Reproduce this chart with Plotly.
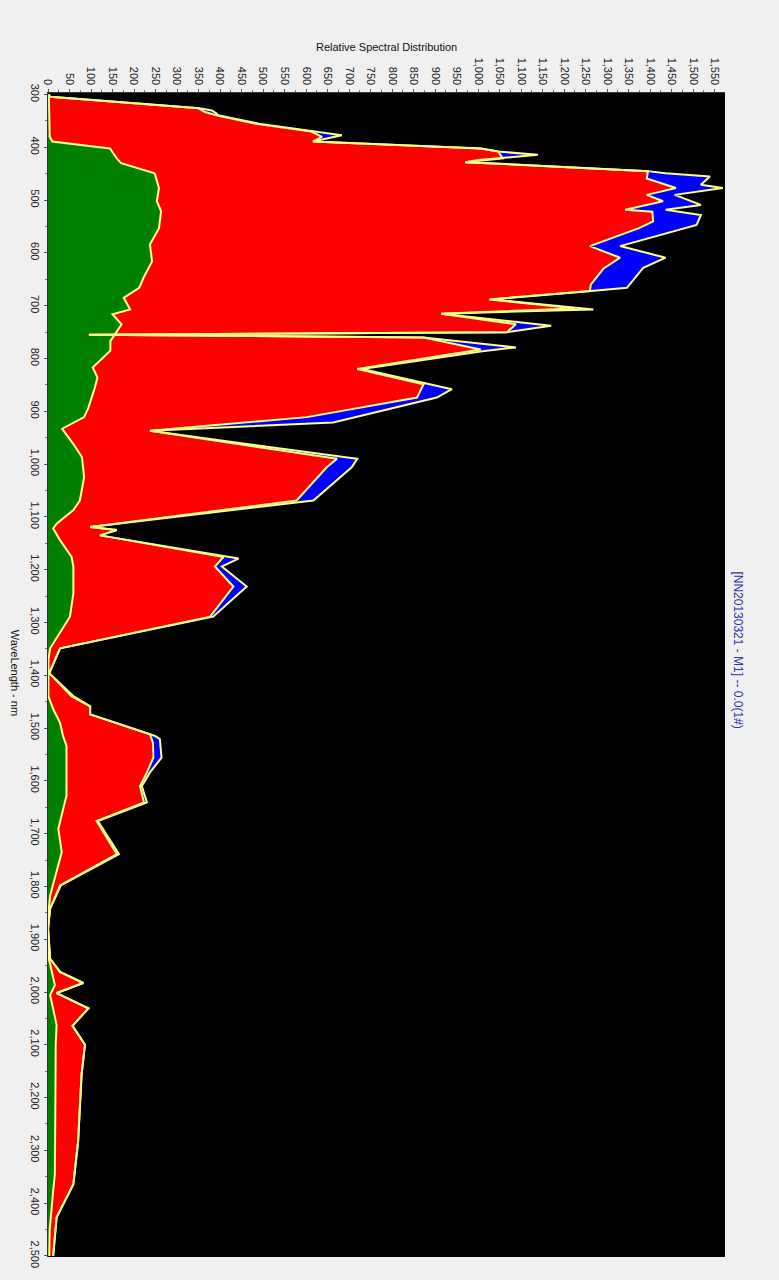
import plotly.graph_objects as go

# Outer envelope (blue band top)
wl_outer = [300, 304, 326, 330, 336, 339, 355, 370, 377, 389, 402, 408, 414, 424, 428,
            445, 449, 455, 471, 477, 490, 509, 518, 528, 547, 587, 609, 628, 666, 672,
            688, 707, 715, 738, 750, 755, 760, 779, 786, 820, 858, 874, 921, 937, 990,
            1006, 1069, 1119, 1125, 1135, 1179, 1194, 1232, 1289, 1349, 1396, 1440, 1459,
            1474, 1515, 1521, 1556, 1584, 1610, 1641, 1676, 1739, 1798, 1842, 1880, 1937,
            1962, 1983, 2002, 2031, 2064, 2100, 2157, 2283, 2364, 2427, 2500]
val_outer = [2, 5, 352, 381, 392, 395, 490, 620, 683, 616, 1006, 1047, 1139, 1000, 970,
             1395, 1436, 1539, 1518, 1569, 1457, 1518, 1436, 1518, 1508, 1330, 1436, 1384, 1346, 1262,
             1030, 1268, 914, 1170, 1067, 95, 873, 1088, 1010, 730, 939, 904, 663, 237, 719,
             706, 617, 98, 160, 121, 443, 404, 462, 384, 28, 3, 60, 98,
             98, 249, 260, 264, 237, 218, 230, 116, 165, 30, 5, 0, 5,
             28, 82, 20, 94, 57, 86, 78, 70, 59, 20, 12]

# Middle series (red band top)
wl_mid = [300, 304, 326, 333, 339, 355, 370, 380, 389, 402, 408, 421, 428, 445, 459,
          477, 490, 502, 518, 522, 540, 553, 587, 609, 630, 660, 672, 688, 705, 715,
          735, 750, 755, 760, 783, 820, 849, 874, 911, 937, 990, 1006, 1069, 1119, 1125,
          1135, 1176, 1194, 1232, 1289, 1349, 1396, 1440, 1459, 1474, 1512, 1528, 1556,
          1584, 1610, 1641, 1676, 1739, 1798, 1842, 1880, 1937, 1962, 1983, 2002, 2031,
          2064, 2100, 2157, 2283, 2364, 2427, 2500]
val_mid = [2, 5, 350, 365, 391, 480, 612, 637, 616, 1006, 1047, 1057, 970, 1395, 1392,
           1460, 1392, 1430, 1342, 1405, 1407, 1374, 1260, 1330, 1291, 1262, 1260, 1026, 1225, 914,
           1088, 1067, 95, 873, 1006, 719, 873, 858, 602, 237, 672, 648, 578, 98, 160,
           121, 408, 388, 431, 377, 28, 3, 55, 98, 98, 237, 244, 245,
           230, 214, 223, 113, 160, 28, 5, 0, 5, 28, 82, 20, 94,
           57, 86, 78, 70, 59, 20, 12]

# Lower series (green band top)
wl_low = [300, 380, 389, 396, 402, 421, 430, 449, 477, 502, 521, 553, 584, 616, 647,
          666, 685, 707, 716, 735, 754, 767, 785, 817, 836, 855, 893, 911, 933, 962,
          987, 1025, 1069, 1087, 1113, 1122, 1144, 1176, 1194, 1245, 1289, 1320, 1349,
          1370, 1440, 1464, 1490, 1515, 1534, 1628, 1679, 1691, 1735, 1792, 1817, 1849,
          1930, 1962, 1987, 2006, 2031, 2062, 2100, 2345, 2377, 2408, 2450, 2500]
val_low = [2, 4, 10, 81, 144, 160, 170, 248, 258, 253, 263, 258, 237, 242, 222,
           212, 176, 191, 150, 171, 156, 145, 145, 104, 115, 109, 94, 84, 33, 59,
           79, 84, 74, 59, 20, 12, 28, 55, 59, 59, 51, 28, 5,
           1, 1, 12, 28, 35, 43, 43, 28, 24, 32, 12, 5, 1,
           0, 9, 16, 5, 12, 20, 18, 16, 12, 8, 4, 3]

OUTLINE = "#ffff88"
FONT = "Liberation Sans, Arial, sans-serif"

fig = go.Figure()

# filled bands, each from zero, drawn back to front
for wl, val, col in [(wl_outer, val_outer, "#0000ff"),
                     (wl_mid, val_mid, "#ff0000"),
                     (wl_low, val_low, "#008000")]:
    fig.add_trace(go.Scatter(x=val, y=wl, mode="lines", fill="tozerox",
                             fillcolor=col, line=dict(width=0, color=col),
                             hoverinfo="skip", showlegend=False))

# pale yellow outlines on top
for wl, val in [(wl_outer, val_outer), (wl_mid, val_mid), (wl_low, val_low)]:
    fig.add_trace(go.Scatter(x=val, y=wl, mode="lines",
                             line=dict(width=2, color=OUTLINE),
                             hoverinfo="skip", showlegend=False))

fig.update_layout(
    width=779, height=1280,
    margin=dict(l=48, r=54, t=93, b=19),
    paper_bgcolor="#f0f0f0",
    plot_bgcolor="#000000",
    font=dict(family=FONT, size=11, color="#222222"),
    xaxis=dict(side="top", range=[0, 1574], tickmode="linear", tick0=0, dtick=50,
               tickformat=",d", tickangle=90, ticks="outside", ticklen=3,
               tickcolor="#555555", showgrid=False, zeroline=False,
               showline=True, linecolor="#333333", linewidth=1,
               minor=dict(ticks="outside", ticklen=2, dtick=25, tickcolor="#777777"),
               tickfont=dict(family=FONT, size=11, color="#222222")),
    yaxis=dict(range=[2502, 297], tickmode="linear", tick0=300, dtick=100,
               tickformat=",d", tickangle=90, ticks="outside", ticklen=3,
               tickcolor="#555555", showgrid=False, zeroline=False,
               showline=True, linecolor="#333333", linewidth=1,
               minor=dict(ticks="outside", ticklen=2, dtick=50, tickcolor="#777777"),
               tickfont=dict(family=FONT, size=11, color="#222222")),
    annotations=[
        dict(text="Relative Spectral Distribution", xref="paper", yref="paper",
             x=0.5, y=1, yshift=46, showarrow=False, xanchor="center", yanchor="middle",
             font=dict(family=FONT, size=11, color="#111111")),
        dict(text="WaveLength - nm", xref="paper", yref="paper",
             x=0, xshift=-33, y=0.502, showarrow=False, textangle=90,
             xanchor="center", yanchor="middle",
             font=dict(family=FONT, size=11, color="#111111")),
        dict(text="[NN20130321 - M1] -- 0.0(1#)", xref="paper", yref="paper",
             x=1, xshift=13, y=0.522, showarrow=False, textangle=90,
             xanchor="center", yanchor="middle",
             font=dict(family=FONT, size=12, color="#3030b0")),
    ],
)

fig.write_html("out.html")
